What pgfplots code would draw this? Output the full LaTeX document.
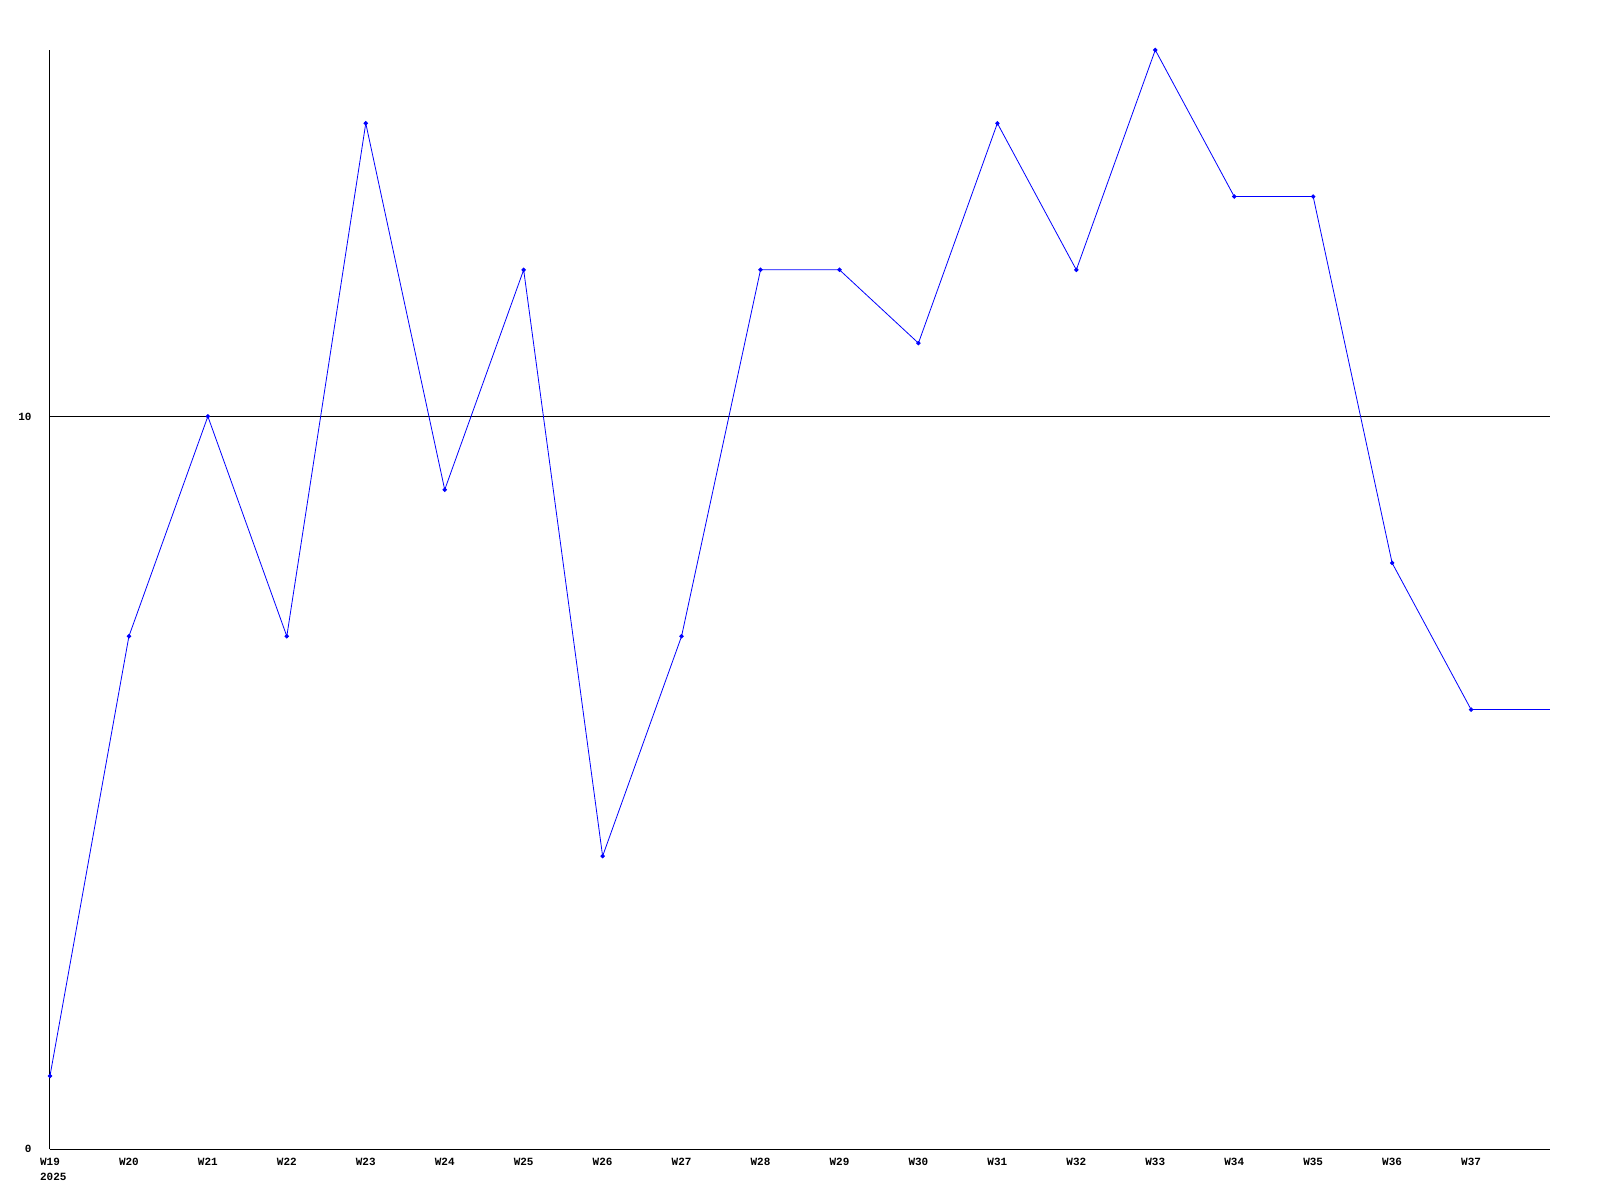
\documentclass[border=0pt]{standalone}
\usepackage{fontspec}
\setmainfont{Liberation Mono}
\usepackage{pgfplots}
\pgfplotsset{compat=1.18}
\begin{document}
\begin{tikzpicture}
\path[use as bounding box] (-50pt,-50pt) rectangle (1551pt,1150pt);
\begin{axis}[
  scale only axis,
  width=1501pt, height=1100pt,
  anchor=south west, at={(0pt,0pt)},
  xmin=0, xmax=19, ymin=0, ymax=15,
  axis x line=bottom, axis y line=left,
  x axis line style={-, line width=1.2pt},
  y axis line style={-, line width=1pt},
  xtick={0,...,18},
  xticklabels={{W19\\\rlap{2025}},W20,W21,W22,W23,W24,W25,W26,W27,W28,W29,W30,W31,W32,W33,W34,W35,W36,W37},
  ytick={0,10},
  major tick length=0pt,
  ymajorgrids,
  grid style={black, line width=0.8pt},
  /pgf/number format/assume math mode=true,
  ticklabel style={font=\fontsize{11}{15}\selectfont\bfseries},
  xticklabel style={align=left, anchor=north, yshift=-5pt},
  yticklabel style={anchor=east, xshift=-15pt},
  clip=false,
]
\addplot[blue, line width=0.8pt, mark=*, mark size=1.8pt] coordinates {
(0,1) (1,7) (2,10) (3,7) (4,14) (5,9) (6,12) (7,4) (8,7) (9,12)
(10,12) (11,11) (12,14) (13,12) (14,15) (15,13) (16,13) (17,8) (18,6)
};
\addplot[blue, line width=0.8pt, no marks] coordinates {(18,6) (19,6)};
\end{axis}
\end{tikzpicture}
\end{document}
